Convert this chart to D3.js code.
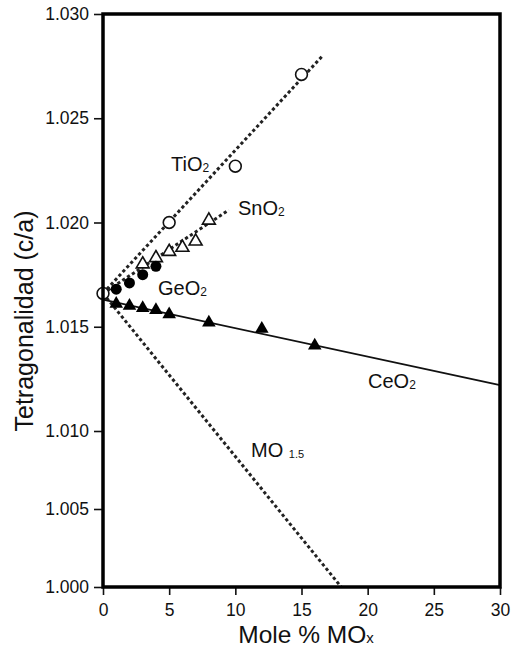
<!DOCTYPE html>
<html>
<head>
<meta charset="utf-8">
<script src="https://cdn.jsdelivr.net/npm/d3@7"></script>
<style>
  html, body { margin: 0; padding: 0; background: #fff; }
  svg { display: block; font-family: "Liberation Sans", Arial, sans-serif; }
</style>
</head>
<body>
<svg id="chart" width="512" height="648"></svg>
<script>
// Tetragonality (c/a) of zirconia vs. dopant content (mole % MOx)

// pure ZrO2 reference point
const origin = [0, 1.0166];

// TiO2 (open circles)
const tiX = [5, 10, 15];
const tiY = [1.0200, 1.0227, 1.0271];

// SnO2 (open triangles)
const snX = [3, 4, 5, 6, 7, 8];
const snY = [1.0180, 1.0183, 1.0186, 1.0188, 1.0191, 1.0201];

// GeO2 (filled circles)
const geX = [1, 2, 3, 4];
const geY = [1.0168, 1.0171, 1.0175, 1.0179];

// CeO2 (filled triangles)
const ceX = [1, 2, 3, 4, 5, 8, 12, 16];
const ceY = [1.0161, 1.0160, 1.0159, 1.0158, 1.0156, 1.0152, 1.0149, 1.0141];

// trend lines: [x, y] end points
const tiLine = [[0, 1.0166], [16.6, 1.0280]];
const snLine = [[0, 1.0166], [9.5, 1.0206]];
const ceLine = [[0, 1.0163], [30, 1.0122]];
const moLine = [[0, 1.0166], [18, 1.0000]];

// axis ticks
const xTicks = [0, 5, 10, 15, 20, 25, 30];
const yTicks = [1.000, 1.005, 1.010, 1.015, 1.020, 1.025, 1.030];

const svg = d3.select("#chart");
const plotL = 103, plotR = 500, plotT = 14, plotB = 587;

const x = d3.scaleLinear().domain([0, 30]).range([plotL, plotR]);
// the vertical axis is compressed below 1.010
const y = d3.scaleLinear().domain([1.000, 1.010, 1.030]).range([plotB, 431, plotT]);

svg.append("rect").attr("width", 512).attr("height", 648).attr("fill", "#fff");

// axes
const yAxis = d3.axisLeft(y).tickValues(yTicks).tickFormat(d3.format(".3f"))
  .tickSize(9).tickPadding(5);
const xAxis = d3.axisBottom(x).tickValues(xTicks).tickFormat(d3.format("d"))
  .tickSize(8).tickPadding(9);

const gy = svg.append("g").attr("transform", `translate(${plotL},0)`).call(yAxis);
const gx = svg.append("g").attr("transform", `translate(0,${plotB})`).call(xAxis);
[gx, gy].forEach(g => {
  g.select(".domain").remove();
  g.selectAll(".tick line").attr("stroke", "#111").attr("stroke-width", 1.6);
  g.selectAll(".tick text").attr("fill", "#111")
    .style("font-size", "17.5px").style("font-family", '"Liberation Sans", Arial, sans-serif');
});

const line = d3.line().x(d => x(d[0])).y(d => y(d[1]));

// dashed trends
[tiLine, snLine, moLine].forEach(pts => {
  svg.append("path").attr("d", line(pts))
    .attr("fill", "none").attr("stroke", "#222")
    .attr("stroke-width", 3).attr("stroke-dasharray", "3.2 2.6");
});
// solid CeO2 trend
svg.append("path").attr("d", line(ceLine))
  .attr("fill", "none").attr("stroke", "#111").attr("stroke-width", 1.8);

const triFill = d3.symbol().type(d3.symbolTriangle).size(80);
const triOpen = d3.symbol().type(d3.symbolTriangle).size(72);

// CeO2 filled triangles
svg.append("g").selectAll("path").data(d3.zip(ceX, ceY)).join("path")
  .attr("d", triFill).attr("transform", d => `translate(${x(d[0])},${y(d[1])})`)
  .attr("fill", "#000");

// SnO2 open triangles
svg.append("g").selectAll("path").data(d3.zip(snX, snY)).join("path")
  .attr("d", triOpen).attr("transform", d => `translate(${x(d[0])},${y(d[1])})`)
  .attr("fill", "#fff").attr("stroke", "#111").attr("stroke-width", 1.6);

// GeO2 filled circles
svg.append("g").selectAll("circle").data(d3.zip(geX, geY)).join("circle")
  .attr("cx", d => x(d[0])).attr("cy", d => y(d[1])).attr("r", 5.5)
  .attr("fill", "#000");

// TiO2 open circles and the pure ZrO2 point
svg.append("g").selectAll("circle").data([origin, ...d3.zip(tiX, tiY)]).join("circle")
  .attr("cx", d => x(d[0])).attr("cy", d => y(d[1])).attr("r", 5.9)
  .attr("fill", "#fff").attr("stroke", "#111").attr("stroke-width", 1.6);

// frame
svg.append("rect")
  .attr("x", plotL).attr("y", plotT)
  .attr("width", plotR - plotL).attr("height", plotB - plotT)
  .attr("fill", "none").attr("stroke", "#000").attr("stroke-width", 3.5);

// series labels with subscripts
function label(xp, yp, main, sub, subSize) {
  const t = svg.append("text").attr("x", xp).attr("y", yp)
    .attr("fill", "#111").style("font-size", "20px");
  t.append("tspan").text(main);
  t.append("tspan").text(sub).style("font-size", subSize + "px").attr("dy", 1);
}
label(171, 171, "TiO", "2", 12);
label(238, 215, "SnO", "2", 12);
label(158, 295, "GeO", "2", 12);
label(368, 388, "CeO", "2", 12);
label(251, 457, "MO ", "1.5", 11);

// axis titles
const xt = svg.append("text").attr("x", 306).attr("y", 643)
  .attr("text-anchor", "middle").attr("fill", "#111").style("font-size", "24.5px");
xt.append("tspan").text("Mole % MO");
xt.append("tspan").text("x").style("font-size", "15px");

svg.append("text")
  .attr("transform", "translate(33,321) rotate(-90)")
  .attr("text-anchor", "middle").attr("fill", "#111").style("font-size", "25px")
  .text("Tetragonalidad (c/a)");
</script>
</body>
</html>
